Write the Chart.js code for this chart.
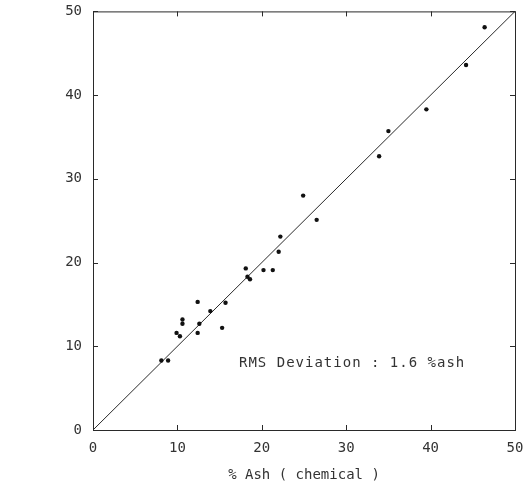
<!DOCTYPE html>
<html>

<head>
    <meta charset="utf-8">
    <title>Ash calibration</title>
    <script src="https://cdn.jsdelivr.net/npm/chart.js@4.4.1/dist/chart.umd.min.js"></script>
    <style>
        body {
            margin: 0;
            background: #fff;
        }

        #chart {
            display: block;
        }
    </style>
</head>

<body>
    <canvas id="chart" width="526" height="488"></canvas>
    <script>
        // measured points: x = % ash (chemical), y = % ash (predicted)
        var ashChemical = [8.1, 8.9, 9.9, 10.3, 10.6, 10.6, 12.4, 12.6, 12.4, 13.9, 15.7, 15.3,
            18.1, 18.3, 18.6, 20.2, 21.3, 22.0, 22.2, 24.9, 26.5, 33.9, 35.0, 39.5, 44.2, 46.4];
        var ashPredicted = [8.3, 8.3, 11.6, 11.2, 13.2, 12.7, 15.3, 12.7, 11.6, 14.2, 15.2, 12.2,
            19.3, 18.3, 18.0, 19.1, 19.1, 21.3, 23.1, 28.0, 25.1, 32.7, 35.7, 38.3, 43.6, 48.1];
        // 1:1 reference line
        var lineX = [0, 50];
        var lineY = [0, 50];
        var tickValues = [0, 10, 20, 30, 40, 50];
        var xTitle = '% Ash ( chemical )';
        var noteText = 'RMS Deviation : 1.6 %ash';
        var notePos = [17.3, 8.0];

        const gemi = (id) => { return document.getElementById(id) };
        const ink = '#2a2a2a';
        const fontFam = '"DejaVu Sans Mono", monospace';

        // frame, inward ticks and the note
        var framePlugin = {
            id: 'frame',
            afterDraw(chart) {
                var ctx = chart.ctx;
                var a = chart.chartArea;
                var xs = chart.scales.x, ys = chart.scales.y;
                ctx.save();
                ctx.strokeStyle = ink;
                ctx.lineWidth = 1;
                ctx.strokeRect(a.left + 0.5, a.top + 0.5, a.right - a.left, a.bottom - a.top);
                ctx.beginPath();
                tickValues.forEach(v => {
                    var px = Math.round(xs.getPixelForValue(v)) + 0.5;
                    ctx.moveTo(px, a.bottom); ctx.lineTo(px, a.bottom - 5);
                    ctx.moveTo(px, a.top); ctx.lineTo(px, a.top + 5);
                    var py = Math.round(ys.getPixelForValue(v)) + 0.5;
                    ctx.moveTo(a.left, py); ctx.lineTo(a.left + 5, py);
                    ctx.moveTo(a.right, py); ctx.lineTo(a.right - 5, py);
                });
                ctx.stroke();

                ctx.fillStyle = '#333';
                ctx.font = '14px ' + fontFam;
                ctx.letterSpacing = '1px';
                ctx.textBaseline = 'middle';
                ctx.textAlign = 'left';
                ctx.fillText(noteText, xs.getPixelForValue(notePos[0]), ys.getPixelForValue(notePos[1]));
                ctx.restore();
            }
        };

        var points = ashChemical.map((x, i) => ({ x: x, y: ashPredicted[i] }));
        var line = lineX.map((x, i) => ({ x: x, y: lineY[i] }));

        new Chart(gemi('chart'), {
            type: 'scatter',
            data: {
                datasets: [
                    {
                        label: 'samples',
                        data: points,
                        pointRadius: 2.2,
                        pointBackgroundColor: '#111',
                        pointBorderWidth: 0
                    },
                    {
                        type: 'line',
                        label: '1:1',
                        data: line,
                        borderColor: ink,
                        borderWidth: 1,
                        pointRadius: 0,
                        fill: false
                    }
                ]
            },
            options: {
                responsive: false,
                animation: false,
                layout: { padding: { top: 2, right: 11, left: 0, bottom: 0 } },
                plugins: {
                    legend: { display: false },
                    tooltip: { enabled: false }
                },
                scales: {
                    x: {
                        type: 'linear',
                        min: 0, max: 50,
                        afterFit(s) { s.height = 58; },
                        grid: { display: false },
                        border: { display: false },
                        ticks: {
                            stepSize: 10,
                            padding: 2,
                            color: '#333',
                            font: { family: fontFam, size: 14 }
                        },
                        title: {
                            display: true,
                            text: xTitle,
                            color: '#333',
                            padding: { top: 12 },
                            font: { family: fontFam, size: 14 }
                        }
                    },
                    y: {
                        type: 'linear',
                        min: 0, max: 50,
                        afterFit(s) { s.width = 93; },
                        grid: { display: false },
                        border: { display: false },
                        ticks: {
                            stepSize: 10,
                            padding: 3,
                            color: '#333',
                            font: { family: fontFam, size: 14 }
                        }
                    }
                }
            },
            plugins: [framePlugin]
        });
    </script>
</body>

</html>
